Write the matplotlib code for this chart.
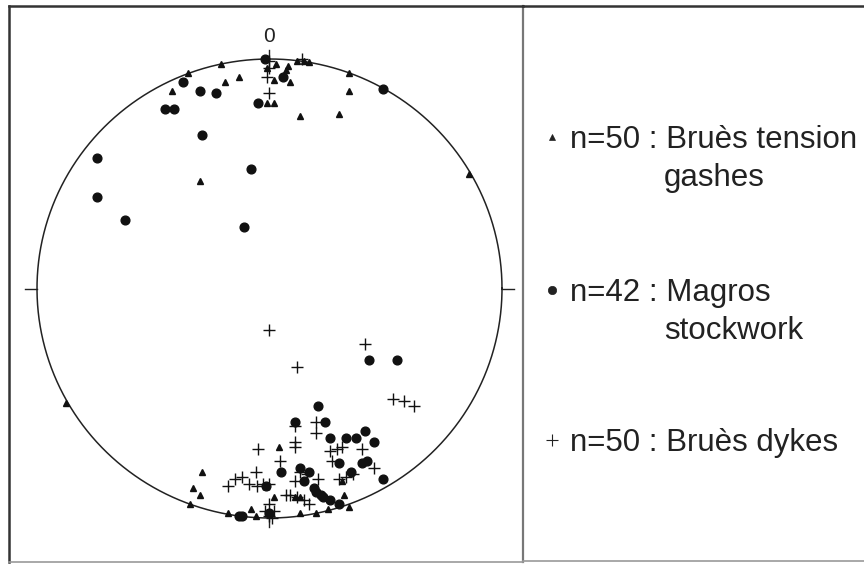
import numpy as np
import matplotlib
matplotlib.use('Agg')
import matplotlib.pyplot as plt

plt.rcParams['font.family'] = ['Liberation Sans', 'DejaVu Sans']

# pole positions in the projection (east, north), unit net radius
gashes_e = [-0.21, -0.35, -0.42, -0.19, -0.13, 0.03, 0.02, 0.09, 0.07, 0.08, 0.12, 0.15, 0.17,
            -0.01, 0.02, 0.13, 0.30, 0.34, 0.34, 0.86, -0.30, -0.01, -0.875,
            -0.29, -0.33, -0.30, 0.04, 0.02, -0.08, -0.34, -0.18, -0.13, 0.13, 0.20,
            0.32, 0.34, 0.31, 0.11, 0.13, -0.06, 0.25]
gashes_n = [0.98, 0.94, 0.86, 0.90, 0.92, 0.98, 0.91, 0.90, 0.95, 0.97, 0.99, 0.99, 0.985,
            0.81, 0.81, 0.75, 0.76, 0.86, 0.94, 0.50, 0.47, 0.96, -0.50,
            -0.80, -0.87, -0.90, -0.69, -0.91, -0.96, -0.94, -0.98, -0.99, -0.98, -0.98,
            -0.90, -0.95, -0.84, -0.91, -0.91, -0.99, -0.96]

magros_e = [-0.02, 0.06, -0.37, -0.30, -0.23, -0.45, -0.41, -0.05, 0.49, -0.29, -0.74, -0.08,
            -0.74, -0.62, -0.11,
            0.43, 0.55, 0.21, 0.24, 0.11, 0.26, 0.33, 0.37, 0.41, 0.45, 0.30, 0.40, 0.42,
            0.35, 0.49, 0.05, 0.13, 0.17, 0.15, -0.015, 0.19, 0.20, 0.22, 0.23, 0.26,
            0.30, -0.13, -0.12, 0.0]
magros_n = [1.0, 0.92, 0.90, 0.86, 0.85, 0.78, 0.78, 0.81, 0.87, 0.67, 0.57, 0.52,
            0.40, 0.30, 0.27,
            -0.31, -0.31, -0.51, -0.58, -0.58, -0.65, -0.65, -0.65, -0.62, -0.67, -0.76,
            -0.76, -0.75, -0.80, -0.83, -0.80, -0.78, -0.80, -0.84, -0.86, -0.87, -0.885,
            -0.90, -0.91, -0.92, -0.94, -0.99, -0.99, -0.98]

dykes_e = [0.0, -0.01, 0.14, 0.0, 0.0,
           0.0, 0.41, 0.12, 0.53, 0.58, 0.62, 0.20, 0.20, 0.11, 0.11, 0.11, -0.05, 0.045,
           0.26, 0.29, 0.31, 0.40, 0.27, 0.45, -0.06, -0.12, -0.15, -0.18, -0.09, -0.055,
           -0.03, 0.0, 0.13, 0.16, 0.11, 0.21, 0.30, 0.33, 0.36, 0.07, 0.09, 0.12, 0.15,
           0.17, 0.0, -0.02, 0.02, 0.0, 0.01]
dykes_n = [0.96, 0.92, 1.0, 0.85, 0.99,
           -0.18, -0.24, -0.34, -0.48, -0.49, -0.51, -0.58, -0.63, -0.60, -0.67, -0.69,
           -0.70, -0.75, -0.71, -0.70, -0.69, -0.70, -0.75, -0.78, -0.80, -0.82, -0.83,
           -0.86, -0.85, -0.86, -0.85, -0.85, -0.80, -0.81, -0.84, -0.83, -0.83, -0.82,
           -0.81, -0.90, -0.90, -0.91, -0.92, -0.94, -0.94, -0.97, -0.97, -0.99, -1.0]

legend_labels = ['n=50 : Bruès tension', 'n=42 : Magros', 'n=50 : Bruès dykes']
legend_second = ['gashes', 'stockwork', '']

W, H = 864, 564
fig = plt.figure(figsize=(W / 100, H / 100), dpi=100)

# stereonet panel: net centre at pixel (269.5, 288.5), radii 232.5 x 229.5 px
cx, cy, rx, ry = 269.5, 288.5, 232.5, 229.5
x0, x1, y0, y1 = 9, 523, 6, 562
ax = fig.add_axes([x0 / W, (H - y1) / H, (x1 - x0) / W, (y1 - y0) / H])
ax.set_xlim((x0 - cx) / rx, (x1 - cx) / rx)
ax.set_ylim((cy - y1) / ry, (cy - y0) / ry)
ax.set_xticks([])
ax.set_yticks([])
ax.spines['left'].set_color('#333333')
ax.spines['left'].set_linewidth(1.8)
ax.spines['top'].set_color('#333333')
ax.spines['top'].set_linewidth(1.8)
ax.spines['right'].set_color('#777777')
ax.spines['right'].set_linewidth(1.6)
ax.spines['bottom'].set_color('#999999')
ax.spines['bottom'].set_linewidth(1.2)

t = np.linspace(0, 2 * np.pi, 400)
ax.plot(np.cos(t), np.sin(t), color='#222222', lw=1.1)
# cardinal ticks
ax.plot([0, 0], [1.0, 1.04], color='#222222', lw=1.0)
ax.plot([0, 0], [-1.0, -1.04], color='#222222', lw=1.0)
ax.plot([-1.0, -1.05], [0, 0], color='#222222', lw=1.0)
ax.plot([1.0, 1.05], [0, 0], color='#222222', lw=1.0)
ax.text(0, 1.10, '0', ha='center', va='center', fontsize=15, color='#222222')

ax.plot(gashes_e, gashes_n, ls='none', marker='^', ms=4.5, color='#111111')
ax.plot(magros_e, magros_n, ls='none', marker='o', ms=6.3, color='#111111')
ax.plot(dykes_e, dykes_n, ls='none', marker='+', ms=8, mew=1.0, color='#111111')

# legend panel in pixel coordinates
lx = fig.add_axes([x1 / W, (H - y1) / H, (W - x1) / W, (y1 - y0) / H])
lx.set_xlim(x1, W)
lx.set_ylim(y1, y0)
lx.axis('off')
lx.plot([x1, W], [y0 + 0.5, y0 + 0.5], color='#333333', lw=1.8, clip_on=False)
lx.plot([x1, W], [y1 - 0.5, y1 - 0.5], color='#999999', lw=1.2, clip_on=False)

markers = [('^', 4, 0.5), ('o', 6, 0.5), ('+', 8, 0.8)]
rows = [137, 290, 440]
for (m, s, w), y, lab, lab2 in zip(markers, rows, legend_labels, legend_second):
    lx.plot(552, y, marker=m, ms=s, mew=w, color='#222222', ls='none')
    lx.text(570, y + 11, lab, fontsize=22.5, color='#222222', va='baseline', ha='left')
    if lab2:
        lx.text(664, y + 49, lab2, fontsize=22.5, color='#222222', va='baseline', ha='left')

fig.savefig('out.png', dpi=100)
